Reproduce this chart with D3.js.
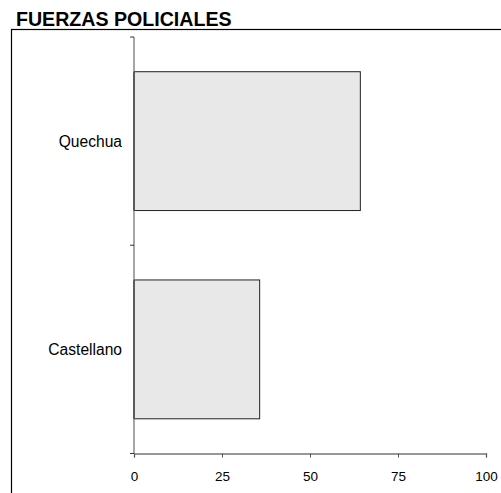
<!DOCTYPE html>
<html><head><meta charset="utf-8">
<script src="https://cdn.jsdelivr.net/npm/d3@7"></script>
<style>body{margin:0;background:#fff}svg{display:block}</style>
</head><body>
<script>
const title = "FUERZAS POLICIALES";
const categories = ["Quechua", "Castellano"];
const values = [64.3, 35.7];
const xTicks = [0, 25, 50, 75, 100];

const W = 501, H = 493;
const svg = d3.select("body").append("svg").attr("width", W).attr("height", H)
  .style("font-family", "Arial, 'Liberation Sans', sans-serif");

svg.append("text").attr("x", 16).attr("y", 25.5).attr("font-weight", "bold")
  .attr("font-size", 19.6).attr("fill", "#000").text(title);

// frame
svg.append("rect").attr("x", 11.5).attr("y", 29.5).attr("width", 600).attr("height", 600)
  .attr("fill", "none").attr("stroke", "#000").attr("stroke-width", 1.2);

const x = d3.scaleLinear().domain([0, 100]).range([134, 486]);
const y = d3.scaleBand().domain(categories).range([37, 453.5]).paddingInner(1/3).paddingOuter(1/6);

const g = svg.append("g");
g.selectAll("rect.bar").data(categories).join("rect").attr("class", "bar")
  .attr("x", x(0)).attr("y", d => y(d))
  .attr("width", (d, i) => x(values[i]) - x(0)).attr("height", y.bandwidth())
  .attr("fill", "#e8e8e8").attr("stroke", "#222").attr("stroke-width", 1);

// x axis
const xa = svg.append("g").attr("transform", `translate(0,${453.5})`)
  .call(d3.axisBottom(x).tickValues(xTicks).tickSize(4).tickPadding(14).tickFormat(d3.format("d")));
xa.select(".domain").attr("stroke", "#777").attr("stroke-width", 1.3);
xa.selectAll(".tick line").attr("stroke", "#555");
xa.selectAll(".tick text").attr("font-size", 13.5).attr("fill", "#000").attr("font-family", "Arial, 'Liberation Sans', sans-serif");

// y axis: ticks at band boundaries
const bounds = [37, (y("Quechua") + y.bandwidth() + y("Castellano")) / 2, 453.5];
const ya = svg.append("g");
ya.append("line").attr("x1", 134).attr("x2", 134).attr("y1", 37).attr("y2", 453.5)
  .attr("stroke", "#777").attr("stroke-width", 1.3);
ya.selectAll("line.t").data(bounds).join("line").attr("class", "t")
  .attr("x1", 130).attr("x2", 134).attr("y1", d => d).attr("y2", d => d)
  .attr("stroke", "#333");
ya.selectAll("text").data(categories).join("text")
  .attr("x", 122).attr("y", d => y(d) + y.bandwidth() / 2).attr("dy", "0.35em")
  .attr("text-anchor", "end").attr("font-size", 15.6).attr("fill", "#000").text(d => d);

// darker left edge of bars
g.selectAll("line.edge").data(categories).join("line").attr("class", "edge")
  .attr("x1", x(0)).attr("x2", x(0)).attr("y1", d => y(d)).attr("y2", d => y(d) + y.bandwidth())
  .attr("stroke", "#111").attr("stroke-width", 1.6);
</script>
</body></html>
